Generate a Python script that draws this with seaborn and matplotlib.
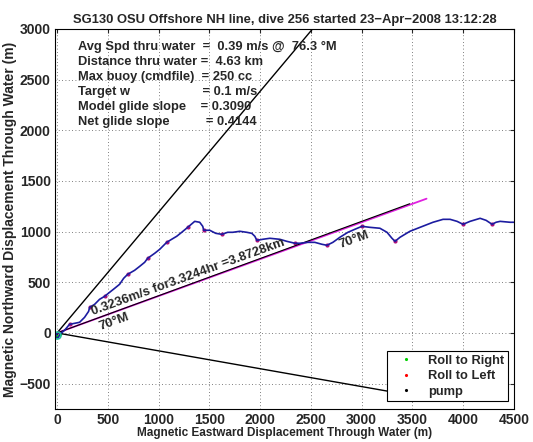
import numpy as np
import pandas as pd
import matplotlib
matplotlib.use("Agg")
import matplotlib.pyplot as plt
import seaborn as sns
from matplotlib.lines import Line2D

# dive track through water (m)
track_x = [0, -15, -8, 15, 30, 74, 123, 173, 222, 271, 311, 321, 370, 419, 468, 518,
           567, 616, 656, 695, 764, 814, 863, 892, 962, 1011, 1080, 1129, 1179, 1228,
           1287, 1356, 1405, 1435, 1445, 1504, 1563, 1622, 1681, 1731, 1800, 1869,
           1918, 1948, 1968, 2026, 2096, 2194, 2263, 2342, 2392, 2470, 2539, 2608,
           2658, 2717, 2786, 2865, 2934, 3003, 3082, 3180, 3250, 3299, 3329, 3378,
           3476, 3575, 3703, 3802, 3871, 3940, 3999, 4068, 4167, 4226, 4285, 4324,
           4364, 4462, 4561]
track_y = [0, -30, -55, -40, -10, 26, 85, 95, 105, 154, 213, 253, 282, 332, 361, 401,
           440, 480, 539, 578, 618, 657, 697, 736, 786, 825, 894, 924, 954, 993,
           1042, 1101, 1092, 1052, 1013, 1013, 983, 973, 993, 993, 1003, 993,
           983, 954, 914, 924, 934, 924, 904, 885, 885, 894, 894, 875,
           865, 894, 944, 993, 1023, 1052, 1042, 1033, 993, 934, 904, 944,
           1003, 1042, 1092, 1121, 1121, 1101, 1072, 1101, 1131, 1111, 1072, 1092,
           1101, 1092, 1092]

# roll / pump markers at the ends of the dives
roll_left_x = [123, 321, 468, 695, 892, 1080, 1287, 1445, 1622, 1968, 2342, 2658,
               3003, 3329, 3999, 4285, 4561]
roll_left_y = [85, 253, 361, 578, 736, 894, 1042, 1013, 973, 914, 885, 865,
               1052, 904, 1072, 1072, 1092]
roll_right_x = [0, 30]
roll_right_y = [-30, -10]
pump_x = [0]
pump_y = [0]

# heading lines from the origin (deg magnetic, m)
bound_headings = [40, 100]
bound_lengths = [4000, 3700]
course_heading = 70
course_length = 3872.8      # 0.3236 m/s for 3.3244 hr
net_heading = 69.85
net_length = 3700

title = "SG130 OSU Offshore NH line, dive 256 started 23\u2212Apr\u22122008 13:12:28"
info_lines = [
    "Avg Spd thru water  =  0.39 m/s @  76.3 \u00b0M",
    "Distance thru water =  4.63 km",
    "Max buoy (cmdfile)  = 250 cc",
    "Target w                    = 0.1 m/s",
    "Model glide slope    = 0.3090",
    "Net glide slope          = 0.4144",
]


def heading_line(heading, length):
    h = np.deg2rad(heading)
    return pd.DataFrame({"x": [0, length * np.sin(h)], "y": [0, length * np.cos(h)]})


def main():
    sns.set_style("white")
    plt.rcParams["font.family"] = ["Liberation Sans", "DejaVu Sans"]
    plt.rcParams["font.weight"] = "bold"
    plt.rcParams["axes.labelweight"] = "bold"

    fig = plt.figure(figsize=(5.33, 4.42), dpi=100)
    ax = fig.add_axes([0.1032, 0.0747, 0.861, 0.86])

    for hd, ln in zip(bound_headings, bound_lengths):
        sns.lineplot(data=heading_line(hd, ln), x="x", y="y", sort=False,
                     estimator=None, color="black", linewidth=1.0, ax=ax)
    sns.lineplot(data=heading_line(course_heading, course_length), x="x", y="y",
                 sort=False, estimator=None, color="#e020e0", linewidth=1.3, ax=ax)
    sns.lineplot(data=heading_line(net_heading, net_length), x="x", y="y",
                 sort=False, estimator=None, color="black", linewidth=0.8, ax=ax)

    track = pd.DataFrame({"x": track_x, "y": track_y})
    sns.lineplot(data=track, x="x", y="y", sort=False, estimator=None,
                 color="#1c1ca0", linewidth=1.2, ax=ax)

    sns.scatterplot(x=roll_left_x, y=roll_left_y, color="#b0107a", s=9,
                    linewidth=0, ax=ax)
    sns.scatterplot(x=roll_right_x, y=roll_right_y, color="#00d000", s=6,
                    linewidth=0, ax=ax)
    sns.scatterplot(x=pump_x, y=pump_y, color="black", s=4, linewidth=0, ax=ax)
    ax.plot([0], [-20], marker="o", mfc="none", mec="#20c0a0", ms=5, mew=1.2)

    ax.set_xlim(-20, 4500)
    ax.set_ylim(-750, 3000)
    ax.set_xticks(np.arange(0, 4501, 500))
    ax.set_yticks(np.arange(-500, 3001, 500))
    ax.tick_params(direction="in", length=3, top=True, right=True,
                   labelsize=10, pad=3, width=0.8)
    for lab in ax.get_xticklabels() + ax.get_yticklabels():
        lab.set_fontweight("bold")
    for sp in ax.spines.values():
        sp.set_linewidth(0.8)
        sp.set_color("black")
    ax.grid(True, linestyle=(0, (1, 3)), color="#555555", linewidth=0.6)

    ax.set_xlabel("Magnetic Eastward Displacement Through Water (m)",
                  fontsize=8.5, labelpad=0)
    ax.set_ylabel("Magnetic Northward Displacement Through Water (m)",
                  fontsize=10, labelpad=2)
    ax.set_title(title, fontsize=9.4, fontweight="bold", pad=4)

    for i, line in enumerate(info_lines):
        ax.text(210, 2824 - i * 149, line, fontsize=9.3, fontweight="bold",
                va="center", ha="left")

    # rotation of the course line on screen
    p0 = ax.transData.transform((0, 0))
    end = heading_line(course_heading, course_length).iloc[1]
    p1 = ax.transData.transform((end.x, end.y))
    ang = np.degrees(np.arctan2(p1[1] - p0[1], p1[0] - p0[0]))

    ax.text(360, 145, "0.3236m/s for3.3244hr =3.8728km", rotation=ang,
            rotation_mode="anchor", ha="left", va="bottom", fontsize=9.3,
            fontweight="bold")
    ax.text(400, 110, "70\u00b0M", rotation=ang, rotation_mode="anchor",
            ha="left", va="top", fontsize=9.5, fontweight="bold")
    ax.text(2760, 925, "70\u00b0M", rotation=ang, rotation_mode="anchor",
            ha="left", va="top", fontsize=9.5, fontweight="bold")

    handles = [
        Line2D([], [], linestyle="none", marker=".", ms=2.5, color="#00d000"),
        Line2D([], [], linestyle="none", marker=".", ms=2.5, color="red"),
        Line2D([], [], linestyle="none", marker=".", ms=2.5, color="black"),
    ]
    leg = ax.legend(handles, ["Roll to Right", "Roll to Left", "pump"],
                    loc="lower right", bbox_to_anchor=(0.987, 0.02),
                    borderaxespad=0, fontsize=9.3, frameon=True, fancybox=False,
                    handlelength=2.4, handletextpad=0.5, labelspacing=0.25,
                    borderpad=0.3, framealpha=1)
    leg.get_frame().set_edgecolor("black")
    leg.get_frame().set_linewidth(0.8)
    for t in leg.get_texts():
        t.set_fontweight("bold")

    fig.savefig("out.png", dpi=100)
    plt.close(fig)


if __name__ == "__main__":
    main()
